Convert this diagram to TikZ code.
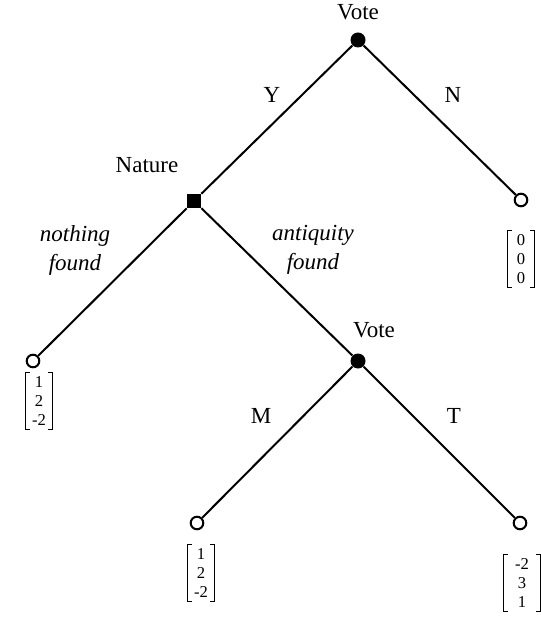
\documentclass[tikz,border=0pt]{standalone}
\usepackage{fontspec}
\setmainfont{Liberation Serif}
\begin{document}
\begin{tikzpicture}[x=0.5pt,y=-0.5pt,
  dec/.style={circle,fill=black,inner sep=0,minimum size=7.5pt},
  chance/.style={rectangle,fill=black,inner sep=0,minimum size=7pt},
  leaf/.style={circle,draw=black,fill=white,line width=1pt,inner sep=0,minimum size=6.3pt},
  edge/.style={line width=1pt},
  lbl/.style={font=\fontsize{11.5}{14.5}\selectfont,inner sep=0,align=center},
  ilbl/.style={font=\fontsize{11.5}{14.5}\selectfont\itshape,inner sep=0,align=center},
  pay/.style={font=\fontsize{8.3}{9.6}\selectfont,inner xsep=0,inner ysep=1.8pt,minimum width=13pt,align=center},
  brk/.style={line width=0.5pt}]
\useasboundingbox (0,0) rectangle (540,625);
% nodes
\node[dec] (v1) at (358,40) {};
\node[chance] (nat) at (194,201) {};
\node[leaf] (lN) at (521,200) {};
\node[leaf] (lNo) at (33,361) {};
\node[dec] (v2) at (358,361) {};
\node[leaf] (lM) at (197,523) {};
\node[leaf] (lT) at (520,523) {};
% edges
\draw[edge] (v1) -- (nat);
\draw[edge] (v1) -- (lN);
\draw[edge] (nat) -- (lNo);
\draw[edge] (nat) -- (v2);
\draw[edge] (v2) -- (lM);
\draw[edge] (v2) -- (lT);
% labels
\node[lbl] (tv1) at (358,12) {Vote};
\node[lbl] (tnat) at (147,165) {Nature};
\node[lbl] (tv2) at (374,330) {Vote};
\node[lbl] (tY) at (272,95) {Y};
\node[lbl] (tN) at (453,95) {N};
\node[lbl] (tM) at (261,416) {M};
\node[lbl] (tT) at (454,416) {T};
\node[ilbl] (tnf) at (75,250) {nothing\\found};
\node[ilbl] (taf) at (313,250) {antiquity\\found};
% payoffs
\node[pay] (pN) at (521,259) {0\\0\\0};
\node[pay] (pNo) at (39,401) {1\\2\\-2};
\node[pay] (pM) at (201,573) {1\\2\\-2};
\node[pay,minimum width=18pt] (pT) at (522,583) {-2\\3\\1};
\foreach \p in {pN,pNo,pM,pT}{
  \draw[brk] ([xshift=2pt]\p.north west) -- (\p.north west) -- (\p.south west) -- ([xshift=2pt]\p.south west);
  \draw[brk] ([xshift=-2pt]\p.north east) -- (\p.north east) -- (\p.south east) -- ([xshift=-2pt]\p.south east);
}
\end{tikzpicture}
\end{document}
